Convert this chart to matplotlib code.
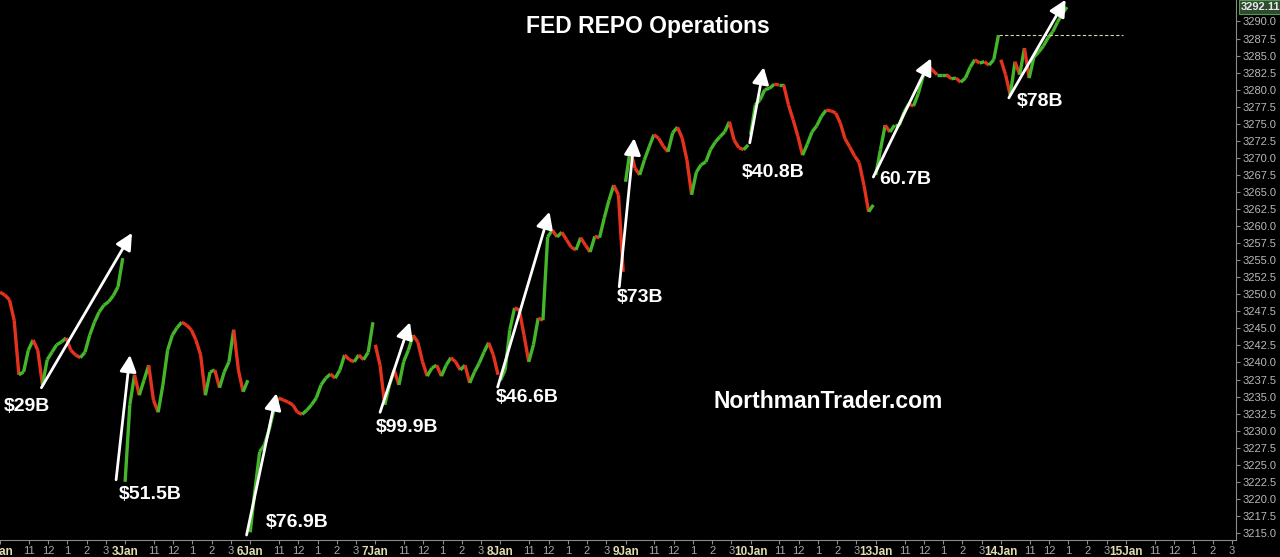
import matplotlib
matplotlib.use("Agg")
import matplotlib.pyplot as plt
from matplotlib.collections import LineCollection
from matplotlib.transforms import blended_transform_factory
import numpy as np

plt.rcParams['font.family'] = ['Liberation Sans', 'DejaVu Sans']

# ---------------- data ----------------
sessions = ['2Jan', '3Jan', '6Jan', '7Jan', '8Jan', '9Jan', '10Jan', '13Jan', '14Jan', '15Jan']
hour_labels = ['11', '12', '1', '2', '3']
hour_offsets = [1.5, 2.5, 3.5, 4.5, 5.5]   # hours after the 9:30 open
session_hours = 6.5

s_2jan = [3250.3, 3249.9, 3249.2, 3246.2, 3238.2, 3238.6, 3241.8, 3243.3, 3241.8, 3236.7,
          3240.4, 3241.5, 3242.6, 3243.0, 3243.6, 3241.8, 3241.1, 3240.7, 3241.5, 3244.0,
          3245.9, 3247.4, 3248.4, 3248.9, 3249.8, 3251.1, 3255.3]
s_3jan = [3222.5, 3233.8, 3238.2, 3235.2, 3237.4, 3239.6, 3234.5, 3232.7, 3236.7, 3241.8,
          3244.0, 3245.1, 3245.9, 3245.5, 3244.8, 3243.3, 3241.1, 3235.2, 3238.6, 3238.9,
          3236.3, 3238.6, 3240.1, 3244.8, 3238.9, 3235.7, 3237.4]
s_6jan = [3215.1, 3221.3, 3226.9, 3227.9, 3230.1, 3233.0, 3234.8, 3234.5, 3234.2, 3233.8,
          3232.7, 3232.4, 3233.0, 3233.8, 3234.8, 3236.7, 3237.7, 3238.3, 3237.7, 3238.9,
          3241.1, 3240.4, 3240.1, 3241.1, 3240.4, 3241.5, 3245.9]
s_7jan = [3242.6, 3239.6, 3233.8, 3236.7, 3238.9, 3236.7, 3240.1, 3241.8, 3244.0, 3243.0,
          3240.1, 3238.0, 3239.2, 3239.6, 3238.0, 3239.6, 3240.7, 3240.1, 3238.9, 3239.6,
          3237.0, 3238.6, 3239.9, 3241.5, 3242.9, 3241.1, 3238.2]
s_8jan = [3237.4, 3238.9, 3244.8, 3248.0, 3247.7, 3244.0, 3240.1, 3242.6, 3246.5, 3246.2,
          3258.4, 3259.4, 3258.4, 3259.1, 3258.0, 3256.9, 3256.5, 3258.3, 3257.2, 3256.2,
          3258.5, 3258.3, 3261.2, 3263.8, 3266.0, 3264.6, 3253.3]
s_9jan = [3266.5, 3271.2, 3268.5, 3267.5, 3269.7, 3271.6, 3273.4, 3272.9, 3271.7, 3270.9,
          3273.7, 3274.5, 3272.9, 3269.7, 3264.6, 3267.9, 3269.0, 3269.4, 3271.2, 3272.3,
          3273.1, 3273.8, 3275.3, 3272.6, 3271.5, 3271.2, 3271.9]
s_10jan = [3273.4, 3277.8, 3278.5, 3280.0, 3280.2, 3280.8, 3280.7, 3280.7, 3277.8, 3275.6,
           3273.2, 3270.4, 3272.0, 3273.8, 3274.7, 3276.1, 3277.0, 3276.9, 3276.6, 3275.1,
           3272.8, 3271.6, 3270.3, 3269.3, 3266.0, 3262.1, 3263.1]
s_13jan = [3267.5, 3271.2, 3274.8, 3273.8, 3274.8, 3274.8, 3276.7, 3277.9, 3277.6, 3279.4,
           3281.9, 3283.5, 3282.9, 3282.2, 3282.2, 3282.2, 3281.6, 3281.7, 3281.1, 3281.7,
           3283.3, 3284.4, 3283.9, 3284.1, 3283.6, 3284.4, 3288.0]
s_14jan = [3284.4, 3282.2, 3279.2, 3284.1, 3282.2, 3286.1, 3281.7, 3284.8, 3285.5, 3286.4,
           3287.6, 3288.5, 3289.9, 3291.1, 3292.11]
session_prices = [s_2jan, s_3jan, s_6jan, s_7jan, s_8jan, s_9jan, s_10jan, s_13jan, s_14jan]

last_price = 3292.11
resistance = 3288.0
resistance_span = (7.984, 8.98)

# REPO annotations: label, arrow tail (session-time, price), arrow tip, label position
repo_labels = ['$29B', '$51.5B', '$76.9B', '$99.9B', '$46.6B', '$73B', '$40.8B', '60.7B', '$78B']
arrow_tail = [(0.331, 3236.3), (0.928, 3222.8), (1.971, 3214.7), (3.038, 3232.7), (3.978, 3236.4),
              (4.950, 3251.1), (5.993, 3272.2), (6.981, 3267.2), (8.064, 3278.8)]
arrow_tip = [(1.055, 3259.0), (1.039, 3241.1), (2.210, 3235.5), (3.277, 3245.9), (4.392, 3262.1),
             (5.069, 3272.9), (6.105, 3283.3), (7.443, 3284.6), (8.518, 3293.2)]
label_pos = [(0.028, 3233.5), (0.952, 3220.7), (2.122, 3216.6), (3.007, 3230.4), (3.962, 3234.8),
             (4.934, 3249.5), (5.930, 3267.8), (7.028, 3266.8), (8.127, 3278.3)]

# ---------------- figure ----------------
W, H = 1280, 557
fig = plt.figure(figsize=(W / 100, H / 100), dpi=100, facecolor='black')
ax = fig.add_axes([0, 17 / H, 1236 / W, 540 / H], facecolor='black')

GREEN = '#45b52a'
RED = '#e3321e'
step = 1 / 26.5
for si, vals in enumerate(session_prices):
    t = si + np.arange(len(vals)) * step
    v = np.array(vals)
    pts = np.column_stack([t, v])
    segs = np.stack([pts[:-1], pts[1:]], axis=1)
    cols = [GREEN if b >= a else RED for a, b in zip(v[:-1], v[1:])]
    lc = LineCollection(segs, colors=cols, linewidths=2.4, capstyle='butt', joinstyle='miter')
    ax.add_collection(lc)

# resistance dashed line
ax.plot(resistance_span, [resistance, resistance], color='#d8d4b8', lw=0.8, dashes=(3, 2))

# arrows + labels
for lab, tail, tip, lp in zip(repo_labels, arrow_tail, arrow_tip, label_pos):
    ax.annotate('', xy=tip, xytext=tail,
                arrowprops=dict(arrowstyle='-|>,head_length=1.0,head_width=0.5',
                                color='white', lw=2.0, shrinkA=0, shrinkB=0),
                annotation_clip=False)
    ax.text(lp[0], lp[1], lab, color='white', fontsize=14, fontweight='bold',
            ha='left', va='center')

# axes limits
ax.set_xlim(4.5 / 125.56, 1240.5 / 125.56)
ax.set_ylim(3213.97, 3293.15)

# y ticks on right
yt = np.arange(3215.0, 3290.01, 2.5)
ax.yaxis.tick_right()
ax.set_yticks(yt)
ax.set_yticklabels([f'{v:.1f}' for v in yt])
ax.tick_params(axis='y', colors='#8a8a8a', labelcolor='#b8b8b8', labelsize=8,
               length=3, width=0.8, direction='out', pad=2)

# x ticks
xt, xl = [], []
for si, name in enumerate(sessions):
    xt.append(si)
    xl.append(name)
    for off, hl in zip(hour_offsets, hour_labels):
        xt.append(si + off / session_hours)
        xl.append(hl)
ax.set_xticks(xt)
ax.set_xticklabels(xl)
ax.tick_params(axis='x', colors='#8a8a8a', labelcolor='#a8a8a8', labelsize=8,
               length=3, width=0.8, direction='out', pad=1)
for lbl in ax.get_xticklabels():
    if 'Jan' in lbl.get_text():
        lbl.set_fontweight('bold')
        lbl.set_color('#e2ddb0')
        lbl.set_fontsize(8.5)
# partially visible first date label (cut by the left edge, as in the source)
ax.text(-0.05, -0.035, sessions[0], transform=blended_transform_factory(ax.transData, ax.transAxes),
        ha='center', va='top', fontsize=8.5, fontweight='bold', color='#e2ddb0', clip_on=False)

for side in ['top', 'left']:
    ax.spines[side].set_visible(False)
for side in ['right', 'bottom']:
    ax.spines[side].set_color('#8a8a8a')
    ax.spines[side].set_linewidth(0.8)

# last price box
ax.text(1.004, last_price, f'{last_price:.2f}',
        transform=blended_transform_factory(ax.transAxes, ax.transData),
        ha='left', va='center', fontsize=8, fontweight='bold', color='#e8e8e8',
        bbox=dict(boxstyle='square,pad=0.15', facecolor='#2f4a2f', edgecolor='#4f9a4f', lw=0.8),
        clip_on=False)

# title and watermark
fig.text(648 / W, 1 - 27 / H, 'FED REPO Operations', color='white', fontsize=16.5,
         fontweight='bold', ha='center', va='center')
fig.text(828 / W, 1 - 401 / H, 'NorthmanTrader.com', color='white', fontsize=16.5,
         fontweight='bold', ha='center', va='center')

fig.savefig('out.png', dpi=100, facecolor='black')
